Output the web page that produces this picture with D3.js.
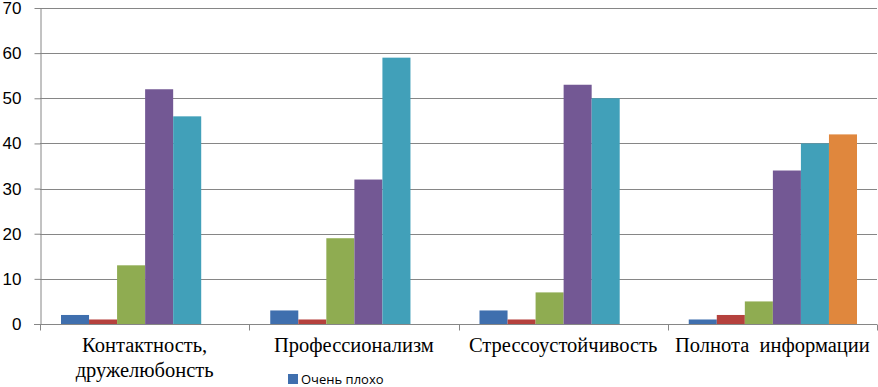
<!DOCTYPE html>
<meta charset="utf-8">
<style>
body { margin: 0; background: #fff; }
svg { display: block; }
.grid line { stroke: #868686; stroke-width: 1; }
.axis path, .axis line { stroke: #868686; }
.axis--y text { font-family: "Liberation Sans", sans-serif; font-size: 17px; fill: #000; }
.axis--x text.lbl { font-family: "Liberation Serif", "DejaVu Serif", serif; font-size: 20.5px; fill: #000; }
.legend text { font-family: "Open Sans", sans-serif; font-size: 13px; fill: #000; }
</style>
<svg width="878" height="387"></svg>
<script src="https://d3js.org/d3.v7.min.js"></script>
<script>
    // categories and series
    const categories = ["Контактность, дружелюбонсть", "Профессионализм", "Стрессоустойчивость", "Полнота  информации"];
    const seriesNames = ["Очень плохо", "Плохо", "Удовлетворительно", "Хорошо", "Отлично", "Затрудняюсь ответить"];
    const series1 = [2, 3, 3, 1];
    const series2 = [1, 1, 1, 2];
    const series3 = [13, 19, 7, 5];
    const series4 = [52, 32, 53, 34];
    const series5 = [46, 59, 50, 40];
    const series6 = [0, 0, 0, 42];
    const yTicks = [0, 10, 20, 30, 40, 50, 60, 70];
    const colors = ["#3f6fae", "#b5413d", "#8fac51", "#735894", "#41a0b9", "#e0873d"];

    const allSeries = [series1, series2, series3, series4, series5, series6];

    var svg = d3.select("svg"),
        margin = {top: 8, right: 1, bottom: 63, left: 40},
        width = +svg.attr("width") - margin.left - margin.right,
        height = +svg.attr("height") - margin.top - margin.bottom,
        g = svg.append("g").attr("transform", "translate(" + margin.left + "," + margin.top + ")");

    var x0 = d3.scaleBand()
        .domain(categories)
        .range([0, width])
        .paddingInner(0)
        .paddingOuter(0);

    // 6 slots per category, gaps at both sides
    var x1 = d3.scaleBand()
        .domain(d3.range(seriesNames.length))
        .range([21, x0.bandwidth() - 20]);

    var y = d3.scaleLinear()
        .domain([0, 70])
        .range([height, 0]);

    // gridlines
    g.append("g")
        .attr("class", "grid")
        .selectAll("line")
        .data(yTicks.slice(1))
        .enter().append("line")
        .attr("x1", 0)
        .attr("x2", width)
        .attr("y1", function(d) { return Math.round(y(d)) + 0.5; })
        .attr("y2", function(d) { return Math.round(y(d)) + 0.5; });

    // bars
    var cat = g.selectAll(".cat")
        .data(categories)
        .enter().append("g")
        .attr("class", "cat")
        .attr("transform", function(d) { return "translate(" + x0(d) + ",0)"; });

    cat.selectAll("rect")
        .data(function(d, i) { return allSeries.map(function(s, j) { return {s: j, v: s[i]}; }); })
        .enter().append("rect")
        .filter(function(d) { return d.v > 0; })
        .attr("x", function(d) { return x1(d.s); })
        .attr("width", x1.bandwidth())
        .attr("y", function(d) { return y(d.v); })
        .attr("height", function(d) { return y(0) - y(d.v); })
        .attr("fill", function(d) { return colors[d.s]; });

    // y axis
    g.append("g")
        .attr("class", "axis axis--y")
        .attr("transform", "translate(0.5,0)")
        .call(d3.axisLeft(y).tickValues(yTicks).tickSize(6).tickPadding(13).tickSizeOuter(0));

    // x axis with ticks at category boundaries
    var xAxis = g.append("g")
        .attr("class", "axis axis--x")
        .attr("transform", "translate(0," + (Math.round(y(0)) + 0.5) + ")");
    xAxis.append("line")
        .attr("x1", -6).attr("x2", width);
    xAxis.selectAll(".tk")
        .data(categories.concat([null]))
        .enter().append("line")
        .attr("class", "tk")
        .attr("x1", function(d, i) { return Math.round(i * x0.bandwidth()) + 0.5; })
        .attr("x2", function(d, i) { return Math.round(i * x0.bandwidth()) + 0.5; })
        .attr("y1", 0).attr("y2", 6);

    var lbl = xAxis.selectAll(".lbl")
        .data(categories)
        .enter().append("text")
        .attr("class", "lbl")
        .attr("text-anchor", "middle")
        .attr("xml:space", "preserve")
        .attr("x", function(d) { return x0(d) + x0.bandwidth() / 2; })
        .attr("y", 27);
    lbl.each(function(d) {
        var parts = d.indexOf(", ") > 0 ? [d.slice(0, d.indexOf(", ") + 1), d.slice(d.indexOf(", ") + 2)] : [d];
        var t = d3.select(this);
        parts.forEach(function(p, k) {
            t.append("tspan")
                .attr("x", x0(d) + x0.bandwidth() / 2)
                .attr("dy", k === 0 ? 0 : 25)
                .text(p);
        });
    });

    // legend: only the first entry fits inside the picture
    var legend = svg.append("g")
        .attr("class", "legend")
        .attr("transform", "translate(288,374)");
    var item = legend.selectAll("g")
        .data(seriesNames.slice(0, 1))
        .enter().append("g");
    item.append("rect")
        .attr("width", 10).attr("height", 10)
        .attr("fill", function(d, i) { return colors[i]; });
    item.append("text")
        .attr("x", 13)
        .attr("y", 10)
        .text(function(d) { return d; });
</script>
